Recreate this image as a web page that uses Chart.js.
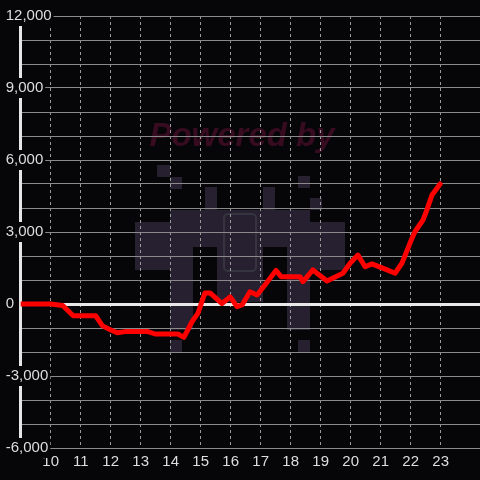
<!DOCTYPE html>
<html>
<head>
<meta charset="utf-8">
<script src="https://cdn.jsdelivr.net/npm/chart.js@4/dist/chart.umd.min.js"></script>
<style>
  html, body { margin: 0; padding: 0; background: #060508; }
  #wrap { width: 480px; height: 480px; }
</style>
</head>
<body>
<div id="wrap"><canvas id="chart" width="480" height="480"></canvas></div>
<script>
/* ── data ────────────────────────────────────────────────── */

const hours = [
  9.0, 10.0, 10.4, 10.75, 11.5, 11.72, 12.0, 12.22, 12.48, 13.24,
  13.48, 14.24, 14.44, 14.71, 14.91, 15.14, 15.31, 15.71, 15.98, 16.21,
  16.38, 16.64, 16.88, 17.14, 17.51, 17.68, 18.31, 18.41, 18.74, 19.21,
  19.74, 19.98, 20.24, 20.48, 20.71, 21.21, 21.48, 21.71, 21.98, 22.14,
  22.41, 22.54, 22.71, 22.98
];
const pnl = [
  0, 0, -60, -490, -490, -900, -1080, -1200, -1150, -1150,
  -1250, -1250, -1390, -740, -380, 460, 460, 20, 300, -110,
  -40, 510, 375, 790, 1400, 1140, 1140, 930, 1420, 960,
  1280, 1700, 2040, 1550, 1670, 1420, 1280, 1700, 2550, 3010,
  3500, 3920, 4540, 5000
];

const xMin = 9, xMax = 24.31;
const yMin = -6000, yMax = 12000;
const yLabelStep = 3000;

/* ── styles ──────────────────────────────────────────────── */

const BG        = "#060508";
const TEXT      = "#dedede";
const GRID_H    = "#8a8a8a";
const GRID_V    = "#9a9a9a";
const LINE_RED  = "#ff0000";
const FONT      = "'Liberation Sans', Arial, sans-serif";

/* ── background + watermark ──────────────────────────────── */

const LOGO = "#262031";
const logoBlocks = [
  [157,165,13,12],[170,177,12,12],[205,187,12,23],[263,187,12,23],
  [298,176,12,12],[310,198,12,12],[170,210,140,37],[147,222,23,48],
  [170,247,23,83],[217,247,46,55],[287,247,23,83],[310,222,23,48],
  [135,222,12,48],[333,222,12,48],[170,340,12,12],[298,340,12,12]
];

const backdrop = {
  id: "backdrop",
  beforeDraw(chart) {
    const ctx = chart.ctx;
    ctx.save();
    ctx.fillStyle = BG;
    ctx.fillRect(0, 0, chart.width, chart.height);

    ctx.fillStyle = LOGO;
    logoBlocks.forEach(([x, y, w, h]) => ctx.fillRect(x, y, w, h));

    ctx.strokeStyle = "#36343e";
    ctx.lineWidth = 2;
    ctx.beginPath();
    ctx.roundRect(224, 214, 32, 57, 4);
    ctx.stroke();

    ctx.fillStyle = "#380c20";
    ctx.font = `italic bold 33px ${FONT}`;
    ctx.textAlign = "center";
    ctx.textBaseline = "alphabetic";
    ctx.fillText("Powered by", 242, 146);
    ctx.restore();
  },
};

/* ── chart ───────────────────────────────────────────────── */

new Chart(document.getElementById("chart"), {
  type: "line",
  data: {
    datasets: [{
      data: hours.map((h, i) => ({ x: h, y: pnl[i] })),
      borderColor: LINE_RED,
      borderWidth: 5,
      pointRadius: 0,
      tension: 0,
      borderJoinStyle: "round",
      borderCapStyle: "round",
    }],
  },
  options: {
    responsive: false,
    animation: false,
    layout: { padding: { top: 16, left: 0, right: 0, bottom: 0 } },
    plugins: { legend: { display: false }, tooltip: { enabled: false } },
    scales: {
      x: {
        type: "linear",
        min: xMin,
        max: xMax,
        afterFit: s => { s.height = 32; },
        afterBuildTicks: s => {
          s.ticks = s.ticks.filter(t => Number.isInteger(t.value) && t.value > xMin);
        },
        ticks: {
          stepSize: 1,
          color: TEXT,
          font: { family: FONT, size: 15 },
          padding: 5,
          maxRotation: 0,
          autoSkip: false,
        },
        grid: {
          color: GRID_V,
          lineWidth: 1,
          drawTicks: false,
        },
        border: { display: false, dash: [3, 3] },
      },
      y: {
        min: yMin,
        max: yMax,
        afterFit: s => { s.width = 20.7; },
        ticks: {
          stepSize: 1000,
          color: TEXT,
          font: { family: FONT, size: 15 },
          mirror: true,
          crossAlign: "near",
          padding: -15,
          showLabelBackdrop: true,
          backdropColor: BG,
          backdropPadding: { top: 1, bottom: 1, left: 1, right: 2 },
          callback: v => v % yLabelStep === 0 ? v.toLocaleString("en-US") : "",
        },
        grid: {
          color: c => c.tick && c.tick.value === 0 ? "#e8e8e8" : GRID_H,
          lineWidth: c => c.tick && c.tick.value === 0 ? 3 : 1,
          drawTicks: false,
        },
        border: { color: "#e6e6e6", width: 3 },
      },
    },
  },
  plugins: [backdrop],
});
</script>
</body>
</html>
